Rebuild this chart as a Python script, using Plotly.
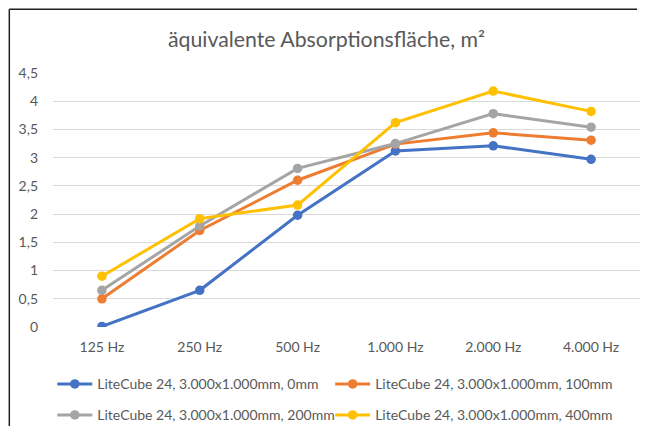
import plotly.graph_objects as go

categories = ["125 Hz", "250 Hz", "500 Hz", "1.000 Hz", "2.000 Hz", "4.000 Hz"]
s_0mm = [0.01, 0.65, 1.98, 3.12, 3.21, 2.97]
s_100mm = [0.50, 1.71, 2.60, 3.24, 3.44, 3.31]
s_200mm = [0.65, 1.79, 2.81, 3.25, 3.78, 3.54]
s_400mm = [0.90, 1.92, 2.16, 3.62, 4.18, 3.82]
names = ["LiteCube 24, 3.000x1.000mm, 0mm", "LiteCube 24, 3.000x1.000mm, 100mm",
         "LiteCube 24, 3.000x1.000mm, 200mm", "LiteCube 24, 3.000x1.000mm, 400mm"]
colors = ["#4472C4", "#ED7D31", "#A5A5A5", "#FFC000"]
ytick_vals = [0, 0.5, 1, 1.5, 2, 2.5, 3, 3.5, 4, 4.5]
ytick_text = ["0", "0,5", "1", "1,5", "2", "2,5", "3", "3,5", "4", "4,5"]
title_text = "äquivalente Absorptionsfläche, m²"

FONT = "Lato, 'Open Sans', sans-serif"
TXT = "#595959"
# the page body adds an 8px offset on each side; keep the figure inside the
# 653x436 window so no scrollbars appear, and place everything in window pixels
OFF = 8
W, H = 653 - 2 * OFF, 436 - 2 * OFF - 2
L = 52.7 - OFF
T = 72.7 - OFF
R = W - (640 - OFF)
B = H - (326.7 - OFF)
pw = W - L - R
ph = H - T - B

def px_x(p):
    return (p - OFF - L) / pw

def px_y(p):
    return (H - B - (p - OFF)) / ph

fig = go.Figure()
series = [s_0mm, s_100mm, s_200mm, s_400mm]
legend_ids = ["legend", "legend2", "legend3", "legend4"]
for vals, name, col, lg in zip(series, names, colors, legend_ids):
    fig.add_trace(go.Scatter(
        x=categories, y=vals, name=name, mode="lines+markers",
        line=dict(color=col, width=3), marker=dict(color=col, size=9.5),
        legend=lg, showlegend=True,
    ))

legend_common = dict(
    orientation="h", xanchor="left", yanchor="middle",
    font=dict(family=FONT, size=14, color=TXT),
    bgcolor="rgba(0,0,0,0)", itemwidth=35,
)
# symbol start positions in window pixels (legend box starts ~7px before the symbol)
leg_pos = [(59 - 7, 384), (337 - 7, 384), (59 - 7, 415), (337 - 7, 415)]
legend_layout = {}
for lg, (lx, ly) in zip(legend_ids, leg_pos):
    legend_layout[lg] = dict(x=px_x(lx), y=px_y(ly), **legend_common)

BORDER = "#1f1f1f"
fig.update_layout(
    width=W, height=H, showlegend=True,
    margin=dict(l=L, r=R, t=T, b=B, pad=0, autoexpand=False),
    paper_bgcolor="white", plot_bgcolor="white",
    title=dict(text=title_text, x=(326.5 - OFF) / W, xanchor="center",
               y=1 - (40 - OFF) / H, yanchor="middle",
               font=dict(family=FONT, size=21.3, color=TXT)),
    xaxis=dict(type="category", range=[-0.5, 5.5], showgrid=False, zeroline=False,
               showline=False, ticks="", ticklabelstandoff=10,
               tickfont=dict(family=FONT, size=14, color=TXT)),
    yaxis=dict(range=[0, 4.5], tickvals=ytick_vals, ticktext=ytick_text,
               showgrid=True, gridcolor="#D9D9D9", gridwidth=1, zeroline=False,
               showline=False, ticks="", ticklabelstandoff=14,
               tickfont=dict(family=FONT, size=14, color=TXT)),
    shapes=[
        dict(type="line", xref="paper", yref="paper", x0=px_x(OFF + 1), x1=px_x(OFF + 1),
             y0=px_y(OFF + H), y1=px_y(OFF + 1), line=dict(color=BORDER, width=1.5)),
        dict(type="line", xref="paper", yref="paper", x0=px_x(OFF + 1), x1=0.995,
             y0=px_y(OFF + 1), y1=px_y(OFF + 1), line=dict(color=BORDER, width=1.5)),
    ],
    **legend_layout,
)

fig.write_html("out.html")
